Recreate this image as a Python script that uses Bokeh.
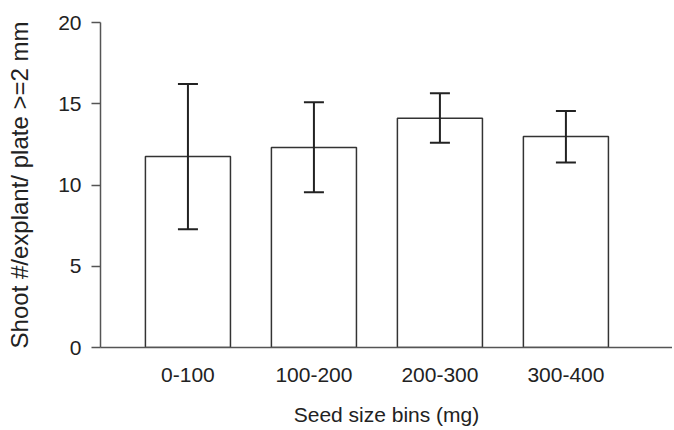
from bokeh.plotting import figure
from bokeh.models import ColumnDataSource, FixedTicker, Range1d
from bokeh.embed import file_html
from bokeh.resources import INLINE

categories = ["0-100", "100-200", "200-300", "300-400"]
means = [11.76, 12.31, 14.11, 12.99]
upper = [16.21, 15.09, 15.64, 14.56]
lower = [7.28, 9.56, 12.60, 11.39]
positions = [1, 2, 3, 4]

src = ColumnDataSource(dict(x=positions, top=means, upper=upper, lower=lower))

FONT = "Liberation Sans"
p = figure(width=672, height=428, output_backend="svg", toolbar_location=None,
           x_range=Range1d(0.306, 4.846), y_range=Range1d(0, 20),
           min_border_left=100, min_border_right=0, min_border_top=22, min_border_bottom=79)
p.outline_line_color = None
p.grid.grid_line_color = None

p.vbar(x="x", top="top", width=0.675, source=src, fill_color="white",
       line_color="#333333", line_width=1.5)

p.segment(x0="x", y0="lower", x1="x", y1="upper", source=src,
          line_color="#222222", line_width=2)
p.scatter(x="x", y="upper", source=src, marker="dash", size=20,
          line_color="#222222", line_width=2)
p.scatter(x="x", y="lower", source=src, marker="dash", size=20,
          line_color="#222222", line_width=2)

p.xaxis.ticker = FixedTicker(ticks=positions)
p.xaxis.major_label_overrides = {pos: c for pos, c in zip(positions, categories)}
p.xaxis.major_tick_out = 0
p.xaxis.major_tick_in = 0
p.xaxis.minor_tick_line_color = None
p.xaxis.axis_label = "Seed size bins (mg)"
p.xaxis.major_label_standoff = 20
p.xaxis.axis_label_standoff = 18

p.yaxis.ticker = FixedTicker(ticks=[0, 5, 10, 15, 20])
p.yaxis.major_tick_out = 9
p.yaxis.major_tick_in = 0
p.yaxis.minor_tick_line_color = None
p.yaxis.axis_label = "Shoot #/explant/ plate >=2 mm"
p.yaxis.major_label_standoff = 10
p.yaxis.axis_label_standoff = 22

for ax in (p.xaxis, p.yaxis):
    ax.axis_line_color = "#555555"
    ax.axis_line_width = 1.5
    ax.major_tick_line_color = "#555555"
    ax.major_tick_line_width = 1.5
    ax.major_label_text_font = FONT
    ax.major_label_text_font_size = "21px"
    ax.major_label_text_color = "#222222"
    ax.axis_label_text_font = FONT
    ax.axis_label_text_font_size = "21px"
    ax.axis_label_text_font_style = "normal"
    ax.axis_label_text_color = "#222222"
p.yaxis.axis_label_text_font_size = "24px"

open("out.html", "w").write(file_html(p, INLINE))
